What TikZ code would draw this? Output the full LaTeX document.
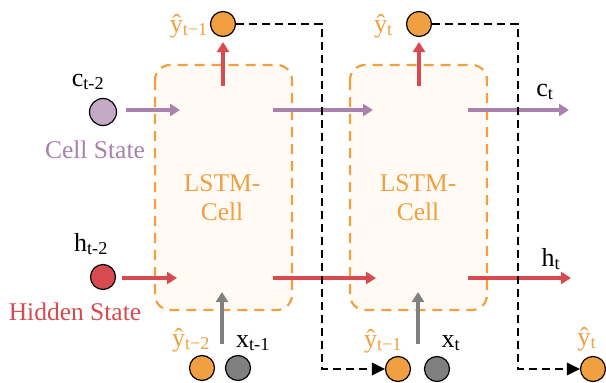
\documentclass[tikz,border=0pt]{standalone}
\usepackage{fontspec}
\setmainfont{Liberation Serif}
\usetikzlibrary{arrows.meta}
\definecolor{lorange}{HTML}{F0A040}
\definecolor{lpurple}{HTML}{A882AC}
\definecolor{lpurplefill}{HTML}{C5A9C7}
\definecolor{lred}{HTML}{D64A50}
\definecolor{lgray}{HTML}{808080}
\definecolor{cellfill}{HTML}{FFFAF4}
\tikzset{
  cellbox/.style={draw=lorange, fill=cellfill, line width=2.2pt, dash pattern=on 10pt off 7pt, rounded corners=15pt},
  dot/.style={circle, draw=black, line width=1.2pt, minimum size=25pt, inner sep=0pt},
  flow/.style={line width=4.5pt, -{Triangle[length=10pt, width=12pt]}},
  feedback/.style={draw=black, line width=2.4pt, dash pattern=on 8pt off 5pt},
  lbl/.style={inner sep=0pt, font=\fontsize{26}{28}\selectfont},
  big/.style={inner sep=0pt, font=\fontsize{25.5}{28}\selectfont},
}
\begin{document}
\begin{tikzpicture}[x=1pt, y=-1pt]
\useasboundingbox (0,0) rectangle (606,383);

% the two LSTM cells
\draw[cellbox] (155,65) rectangle (292,310);
\draw[cellbox] (350,65) rectangle (487,310);
\node[big, text=lorange] (lstmA) at (222,183) {LSTM-};
\node[big, text=lorange] (cellA) at (222,212) {Cell};
\node[big, text=lorange] (lstmB) at (418,183) {LSTM-};
\node[big, text=lorange] (cellB) at (418,212) {Cell};

% state inputs on the left
\node[dot, fill=lpurplefill, minimum size=27pt] (c0) at (103,112) {};
\node[dot, fill=lred] (h0) at (103,277) {};
\node[lbl] (c0l) at (88,82) {c\textsubscript{t-2}};
\node[lbl] (h0l) at (91,244) {h\textsubscript{t-2}};
\node[big, text=lpurple] (cs) at (95,150) {Cell State};
\node[big, text=lred] (hs) at (75,312) {Hidden State};

% outputs on top
\node[dot, fill=lorange] (yA) at (223,24) {};
\node[dot, fill=lorange] (yB) at (419,24) {};
\node[lbl, text=lorange, anchor=east] (yAl) at (208,26) {ŷ\textsubscript{t−1}};
\node[lbl, text=lorange, anchor=east] (yBl) at (393,26) {ŷ\textsubscript{t}};

% inputs at the bottom
\node[dot, fill=lorange] (ypA) at (202,368) {};
\node[dot, fill=lgray] (xA) at (238,368) {};
\node[dot, fill=lorange] (ypB) at (398,369) {};
\node[dot, fill=lgray] (xB) at (437,369) {};
\node[dot, fill=lorange] (yC) at (593,369) {};
\node[lbl, text=lorange] (ypAl) at (191,340) {ŷ\textsubscript{t−2}};
\node[lbl] (xAl) at (253,343) {x\textsubscript{t-1}};
\node[lbl, text=lorange] (ypBl) at (383,341) {ŷ\textsubscript{t−1}};
\node[lbl] (xBl) at (451,343) {x\textsubscript{t}};
\node[lbl, text=lorange] (yCl) at (587,339) {ŷ\textsubscript{t}};

% right-hand outputs
\node[lbl] (ct) at (545,92) {c\textsubscript{t}};
\node[lbl] (ht) at (551,259) {h\textsubscript{t}};

% arrow end points
\coordinate (cA1) at (126,110);  \coordinate (cA2) at (180,110);
\coordinate (cB1) at (273,110);  \coordinate (cB2) at (373,110);
\coordinate (cC1) at (468,110);  \coordinate (cC2) at (569,110);
\coordinate (hA1) at (122,278);  \coordinate (hA2) at (177,278);
\coordinate (hB1) at (273,278);  \coordinate (hB2) at (376,278);
\coordinate (hC1) at (468,278);  \coordinate (hC2) at (571,278);
\coordinate (upA1) at (223,86);  \coordinate (upA2) at (223,42);
\coordinate (upB1) at (419,86);  \coordinate (upB2) at (419,42);
\coordinate (inA1) at (222,344); \coordinate (inA2) at (222,292);
\coordinate (inB1) at (418,344); \coordinate (inB2) at (418,292);
\coordinate (fbA1) at (322,24);  \coordinate (fbA2) at (322,369);
\coordinate (fbB1) at (518,24);  \coordinate (fbB2) at (518,369);

% cell state flow
\draw[flow, lpurple] (cA1) -- (cA2);
\draw[flow, lpurple] (cB1) -- (cB2);
\draw[flow, lpurple] (cC1) -- (cC2);
% hidden state flow
\draw[flow, lred] (hA1) -- (hA2);
\draw[flow, lred] (hB1) -- (hB2);
\draw[flow, lred] (hC1) -- (hC2);
% cell outputs
\draw[flow, lred] (upA1) -- (upA2);
\draw[flow, lred] (upB1) -- (upB2);
% cell inputs
\draw[flow, lgray, line width=4pt] (inA1) -- (inA2);
\draw[flow, lgray, line width=4pt] (inB1) -- (inB2);

% fed-back predictions
\draw[feedback] (yA.east) -- (fbA1) -- (fbA2) -- (ypB.west);
\draw[feedback] (yB.east) -- (fbB1) -- (fbB2) -- (yC.west);
\fill[black] (ypB.west) -- ++(-13,-6.5) -- ++(0,13) -- cycle;
\fill[black] (yC.west) -- ++(-13,-6.5) -- ++(0,13) -- cycle;
\end{tikzpicture}
\end{document}
